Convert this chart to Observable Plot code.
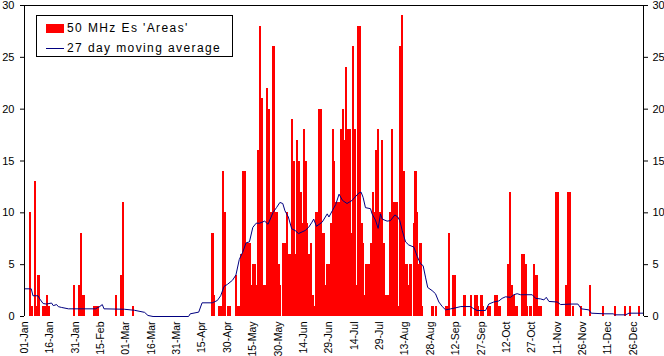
<!DOCTYPE html>
<html><head><meta charset="utf-8">
<script src="https://cdn.jsdelivr.net/npm/d3@7"></script>
<script src="https://cdn.jsdelivr.net/npm/@observablehq/plot@0.6"></script>
<style>
body{margin:0;background:#fff;}
#wrap{position:relative;width:664px;height:356px;font-family:"Liberation Sans",Arial,sans-serif;}
#legend{position:absolute;left:36px;top:15px;width:195px;height:40px;border:1px solid #000;background:#fff;font-size:12px;letter-spacing:1.4px;color:#000;}
#legend .row{position:absolute;left:9px;height:14px;display:flex;align-items:center;white-space:nowrap;}
#legend .sw{display:inline-block;width:18px;height:9px;background:#ff0000;margin-right:3px;}
#legend .ln{display:inline-block;width:18px;height:1px;background:#000080;margin-right:3px;}
</style></head>
<body><div id="wrap"></div>
<script>
// Daily counts of 50 MHz Es 'Areas' (day index from 01-Jan; days not listed are zero)
const eventDay = [3,4,6,7,8,11,12,13,14,29,32,33,34,35,41,42,43,54,57,58,64,
111,112,115,116,117,118,120,121,125,126,127,128,129,130,131,132,133,134,135,136,137,138,139,140,141,142,143,144,145,146,147,148,149,150,151,153,154,155,156,157,158,159,160,161,162,163,164,165,166,167,168,169,170,171,172,173,174,175,176,177,178,179,180,181,182,183,184,185,186,187,188,189,190,191,192,193,194,195,196,197,198,199,200,201,202,203,204,205,206,207,208,209,210,211,212,213,214,215,216,217,218,219,220,221,222,223,224,225,226,227,228,230,231,232,233,234,235,
241,243,249,250,251,253,254,260,264,266,267,268,270,271,274,275,278,279,280,281,286,287,288,289,290,291,294,295,296,297,299,301,302,303,304,305,314,315,320,321,322,324,329,334,342,349,355,358,363];
const eventCount = [10,1,13,1,4,1,1,2,1,3,3,8,2,2,1,1,1,2,4,11,1,
8,2,1,1,14,10,1,1,4,1,1,6,14,14,7,7,7,3,5,5,3,16,28,21,3,3,22,20,10,10,26,10,10,5,3,7,7,10,6,6,19,15,6,17,15,12,9,18,15,9,6,7,2,1,10,10,20,20,8,8,3,5,5,9,18,15,11,11,11,18,20,17,24,18,18,8,26,18,3,28,28,9,7,2,5,5,5,7,12,10,16,18,10,17,7,2,2,2,10,18,11,11,11,1,26,29,14,5,5,3,5,9,14,10,5,7,1,
1,1,1,1,8,4,4,2,2,2,2,1,2,1,1,1,2,2,1,1,5,12,3,2,1,1,6,6,5,1,1,5,4,4,1,1,12,12,3,12,12,1,1,3,1,1,1,1,1];

// 27 day moving average (day index, value)
const maDay = [0,4,5,8,9,11,13,16,17,19,20,22,26,42,43,44,46,47,59,65,71,73,76,97,98,103,105,111,114,116,118,120,123,125,127,129,131,133,135,137,139,142,144,147,149,151,152.7,154,156,158,160,162,166,168,170,171,172.6,176,179,180,182,184,186,188,190.7,193.7,197.6,199,200.2,201.6,204.6,205.5,207.5,209.1,210.5,211.5,214.4,216.4,219,220.7,221.9,223.3,225.3,227.2,230.2,232.2,234.1,235.7,237.1,238.4,241,243,245,247,249,252,255,258,263.7,265.7,267.6,272.6,274.5,277.5,280.5,282.4,284.4,287.4,289.3,291.3,293.3,300.2,302.2,305.1,307.1,308.5,310.1,315,317,322.9,327.2,329.2,333.7,335.1,342.6,348.1,348.9,355.4,357.4,366];
const maValue = [2.67,2.67,2.0,2.0,1.7,1.25,1.2,1.3,1.05,1.15,0.95,0.87,0.74,0.74,0.84,0.9,1.15,0.74,0.7,0.6,0.4,0.1,0,0,0.26,0.42,1.32,1.32,1.54,2.0,2.9,3.1,3.5,4.0,5.5,6.2,7.1,7.2,8.6,9.0,9.0,9.2,8.9,10.05,10.5,11.0,10.9,10.2,9.6,8.45,8.3,8.0,8.3,8.6,9.1,9.4,8.7,9.1,9.9,9.6,10.2,10.8,11.8,11.2,10.9,11.2,11.9,12.0,11.5,10.5,10.4,9.9,9.3,8.5,9.9,9.4,9.2,9.25,9.8,9.6,9.25,8.3,7.2,6.9,6.7,5.8,5.1,4.9,3.8,2.8,2.5,2.2,1.4,0.96,0.64,0.74,0.84,0.96,0.96,0.74,0.58,0.58,1.2,1.4,1.5,1.75,1.9,1.85,2.1,2.2,2.1,2.1,1.75,1.7,1.6,1.85,1.45,1.4,1.15,1.2,1.2,0.74,0.64,0.32,0.26,0.26,0.16,0.16,0.32,0.32];

const tickDays = [0,15,30,45,60,75,90,105,120,135,150,165,180,195,210,225,240,255,270,285,300,315,330,345,360];
const tickLabels = ["01-Jan","16-Jan","31-Jan","15-Feb","01-Mar","16-Mar","31-Mar","15-Apr","30-Apr","15-May","30-May","14-Jun","29-Jun","14-Jul","29-Jul","13-Aug","28-Aug","12-Sep","27-Sep","12-Oct","27-Oct","11-Nov","26-Nov","11-Dec","26-Dec"];
const yTicks = [0,5,10,15,20,25,30];
const seriesNames = ["50 MHz Es 'Areas'", "27 day moving average"];

const DAY = 864e5, START = Date.UTC(2000,0,1);
const dayDate = d => new Date(START + d*DAY);

const bars = eventDay.map((d,i)=>({d, v:eventCount[i]}));
const ma = maDay.map((d,i)=>({d, v:maValue[i]}));
const ticks = tickDays.map((d,i)=>({date: dayDate(d), label: tickLabels[i]}));
const labelOf = new Map(ticks.map(t=>[+t.date, t.label]));

const chart = Plot.plot({
  width: 664, height: 356,
  marginLeft: 24, marginRight: 21, marginTop: 5, marginBottom: 40,
  style: {fontFamily: "'Liberation Sans', Arial, sans-serif", background: "white", overflow: "visible"},
  x: {type: "utc", domain: [dayDate(0), dayDate(366)], axis: null},
  y: {domain: [0, 30], axis: null},
  marks: [
    Plot.rectY(bars, {x1: r=>dayDate(r.d), x2: r=>dayDate(r.d+1), y: "v", fill: "#ff0000", insetLeft: -0.3, insetRight: -0.3, shapeRendering: "crispEdges"}),
    Plot.line(ma, {x: r=>dayDate(r.d), y: "v", stroke: "#000080", strokeWidth: 1}),
    Plot.ruleY([30], {stroke: "#000", shapeRendering: "crispEdges"}),
    Plot.ruleX([dayDate(0), dayDate(366)], {stroke: "#000", shapeRendering: "crispEdges"}),
    Plot.axisY(yTicks, {anchor: "left", tickSize: 4, tickPadding: 6, fontSize: 11, label: null}),
    Plot.axisY(yTicks, {anchor: "right", tickSize: 4, tickPadding: 5, fontSize: 11, label: null}),
    Plot.axisX(ticks.map(t=>t.date), {anchor: "bottom", tickSize: 0, tickPadding: 5, tickRotate: -90, fontSize: 10.5, tickFormat: d => labelOf.get(+d), label: null})
  ]
});
const wrap = document.getElementById("wrap");
wrap.appendChild(chart);
const legend = document.createElement("div");
legend.id = "legend";
legend.innerHTML = `<div class="row" style="top:5px"><span class="sw"></span><span>${seriesNames[0]}</span></div>
<div class="row" style="top:25px"><span class="ln"></span><span>${seriesNames[1]}</span></div>`;
wrap.appendChild(legend);
</script>
</body></html>
